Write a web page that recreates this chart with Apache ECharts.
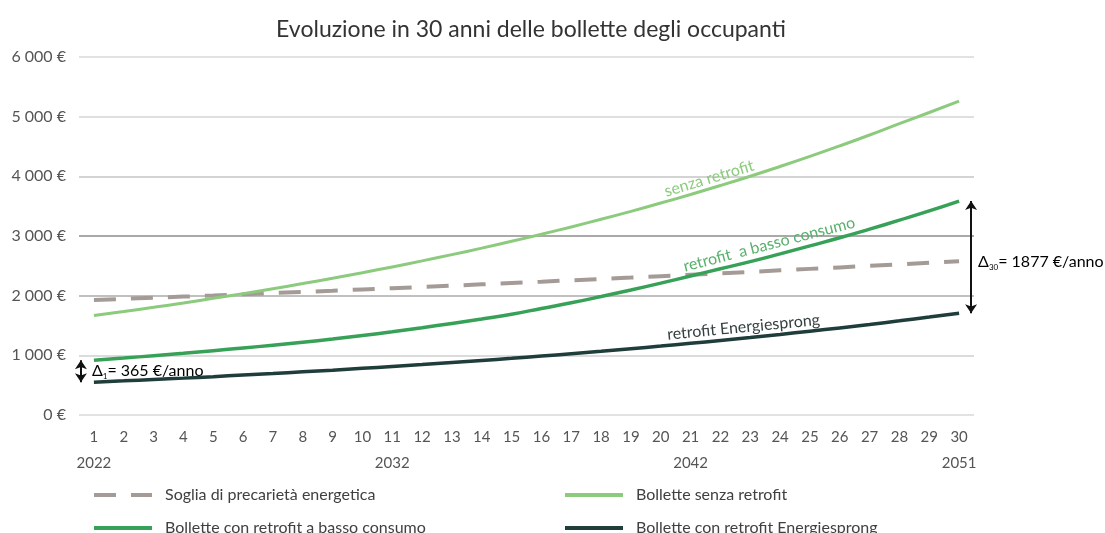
<!DOCTYPE html>
<html>
<head>
<meta charset="utf-8">
<title>Evoluzione in 30 anni delle bollette degli occupanti</title>
<script src="https://cdn.jsdelivr.net/npm/echarts@6/dist/echarts.min.js"></script>
<style>
  html, body { margin: 0; padding: 0; background: #fff; }
  #chart { width: 1105px; height: 533px; }
</style>
</head>
<body>
<div id="chart"></div>
<script>
// years 1..30 (2022..2051)
const categories = ['1','2','3','4','5','6','7','8','9','10','11','12','13','14','15',
  '16','17','18','19','20','21','22','23','24','25','26','27','28','29','30']
const yearLabels = ['2022','','','','','','','','','','2032','','','','','','','','','',
  '2042','','','','','','','','','2051']
const yTickLabels = ['0 €','1 000 €','2 000 €','3 000 €','4 000 €','5 000 €','6 000 €']

// €/anno
const soglia = [1928,1946,1965,1984,2003,2023,2043,2063,2083,2104,2125,2146,2168,2190,2212,
  2234,2257,2280,2303,2327,2351,2375,2399,2424,2449,2474,2499,2525,2551,2577]
const senzaRetrofit = [1667,1735,1805,1878,1955,2034,2117,2203,2292,2385,2482,2583,2688,2797,2911,
  3029,3152,3280,3413,3552,3696,3846,4002,4165,4334,4510,4693,4884,5070,5260]
const bassoConsumo = [917,955,994,1035,1078,1123,1170,1220,1273,1332,1395,1463,1535,1610,1690,
  1785,1880,1985,2095,2210,2330,2450,2570,2700,2835,2970,3115,3265,3420,3585]
const energiesprong = [550,572,595,618,643,669,695,723,752,782,813,845,879,914,950,
  988,1027,1068,1111,1155,1201,1249,1298,1350,1404,1460,1518,1578,1641,1707]

const FONT = 'Lato, "Open Sans", sans-serif'
const C_SOGLIA = '#a49b97'
const C_SENZA = '#8ccb7d'
const C_BASSO = '#38a158'
const C_ENERGIE = '#1f3d3a'

const chart = echarts.init(document.getElementById('chart'))

const legendBase = {
  orient: 'vertical',
  top: 487,
  height: 80,
  padding: 0,
  itemWidth: 58,
  itemHeight: 14,
  itemGap: 17,
  lineStyle: { width: 4 },
  itemStyle: { opacity: 0 },
  textStyle: { fontFamily: FONT, fontSize: 16, color: '#404040', padding: [0, 0, 0, 8] }
}

const option = {
  animation: false,
  backgroundColor: '#fff',
  textStyle: { fontFamily: FONT },
  title: {
    text: 'Evoluzione in 30 anni delle bollette degli occupanti',
    left: 526,
    top: 13,
    textAlign: 'center',
    textStyle: { fontFamily: FONT, fontSize: 23, fontWeight: 'normal', color: '#333' }
  },
  grid: { left: 79, right: 131, top: 57, bottom: 118 },
  legend: [
    Object.assign({}, legendBase, {
      data: ['Soglia di precarietà energetica', 'Bollette con retrofit a basso consumo'],
      left: 92
    }),
    Object.assign({}, legendBase, {
      data: ['Bollette senza retrofit', 'Bollette con retrofit Energiesprong'],
      left: 563
    })
  ],
  xAxis: {
    type: 'category',
    data: categories,
    boundaryGap: true,
    axisLine: { show: false },
    axisTick: { show: false },
    axisLabel: {
      interval: 0,
      margin: 9,
      fontSize: 15,
      lineHeight: 26,
      color: '#555',
      formatter: (v, i) => yearLabels[i] ? v + '\n' + yearLabels[i] : v
    }
  },
  yAxis: {
    type: 'value',
    min: 0,
    max: 6000,
    interval: 1000,
    axisLine: { show: false },
    axisTick: { show: false },
    axisLabel: {
      margin: 13,
      fontSize: 16,
      color: '#555',
      formatter: v => yTickLabels[Math.round(v / 1000)]
    },
    splitLine: {
      lineStyle: {
        width: 1.5,
        color: ['#d9d9d9', '#cfcfcf', '#ababab', '#8c8c8c', '#c4c4c4', '#d4d4d4', '#d9d9d9']
      }
    }
  },
  series: [
    {
      id: 'soglia',
      name: 'Soglia di precarietà energetica',
      type: 'line',
      data: soglia,
      symbol: 'none',
      lineStyle: { color: C_SOGLIA, width: 4, type: [22, 15] },
      itemStyle: { color: C_SOGLIA }
    },
    {
      id: 'senza',
      name: 'Bollette senza retrofit',
      type: 'line',
      data: senzaRetrofit,
      symbol: 'none',
      smooth: true,
      lineStyle: { color: C_SENZA, width: 3 },
      itemStyle: { color: C_SENZA }
    },
    {
      id: 'basso',
      name: 'Bollette con retrofit a basso consumo',
      type: 'line',
      data: bassoConsumo,
      symbol: 'none',
      smooth: true,
      lineStyle: { color: C_BASSO, width: 3.5 },
      itemStyle: { color: C_BASSO }
    },
    {
      id: 'energie',
      name: 'Bollette con retrofit Energiesprong',
      type: 'line',
      data: energiesprong,
      symbol: 'none',
      smooth: true,
      lineStyle: { color: C_ENERGIE, width: 3.5 },
      itemStyle: { color: C_ENERGIE }
    }
  ]
}

chart.setOption(option)

// second pass: annotations placed from the data through the axes
const px = (i, v) => chart.convertToPixel({ xAxisIndex: 0, yAxisIndex: 0 }, [i, v])

const curveLabel = (data, pos, dy, text, color) => {
  const i0 = Math.floor(pos), i1 = i0 + 1
  const p0 = px(i0, data[i0]), p1 = px(i1, data[i1])
  const t = pos - i0
  const x = p0[0] + (p1[0] - p0[0]) * t
  const y = p0[1] + (p1[1] - p0[1]) * t
  const rot = Math.atan2(p0[1] - p1[1], p1[0] - p0[0])
  return {
    type: 'text', x: x, y: y + dy, rotation: rot,
    style: { text: text, fill: color, font: '16px ' + FONT, align: 'center', verticalAlign: 'bottom' }
  }
}

const deltaText = (x, y, sub, rest) => ({
  type: 'text', x: x, y: y,
  style: {
    text: '{d|Δ}{s|' + sub + '}{d|' + rest + '}',
    align: 'left', verticalAlign: 'middle',
    rich: {
      d: { fontFamily: FONT, fontSize: 16, color: '#404040', lineHeight: 18 },
      s: { fontFamily: FONT, fontSize: 8, color: '#404040', verticalAlign: 'bottom', lineHeight: 10 }
    }
  }
})

const last = categories.length - 1
const xLeft = px(0, 0)[0] - 13
const xRight = px(last, 0)[0] + 12
const l1 = px(0, bassoConsumo[0])[1], l2 = px(0, energiesprong[0])[1]
const r1 = px(last, bassoConsumo[last])[1], r2 = px(last, energiesprong[last])[1]

chart.setOption({
  series: [{
    id: 'energie',
    markLine: {
      silent: true,
      symbol: ['arrow', 'arrow'],
      symbolSize: [9, 9],
      label: { show: false },
      lineStyle: { color: '#111', width: 2, type: 'solid' },
      data: [
        [{ x: xLeft, y: l1 }, { x: xLeft, y: l2 }],
        [{ x: xRight, y: r1 }, { x: xRight, y: r2 }]
      ]
    }
  }],
  graphic: [
    curveLabel(senzaRetrofit, 20.7, -2, 'senza retrofit', C_SENZA),
    curveLabel(bassoConsumo, 22.7, -4, 'retrofit  a basso consumo', '#58b06c'),
    curveLabel(energiesprong, 21.8, -3, 'retrofit Energiesprong', '#34403f'),
    deltaText(xLeft + 11, (l1 + l2) / 2, '1', '= 365 €/anno'),
    deltaText(xRight + 7, (r1 + r2) / 2 + 5, '30', '= 1877 €/anno')
  ]
})
</script>
</body>
</html>
